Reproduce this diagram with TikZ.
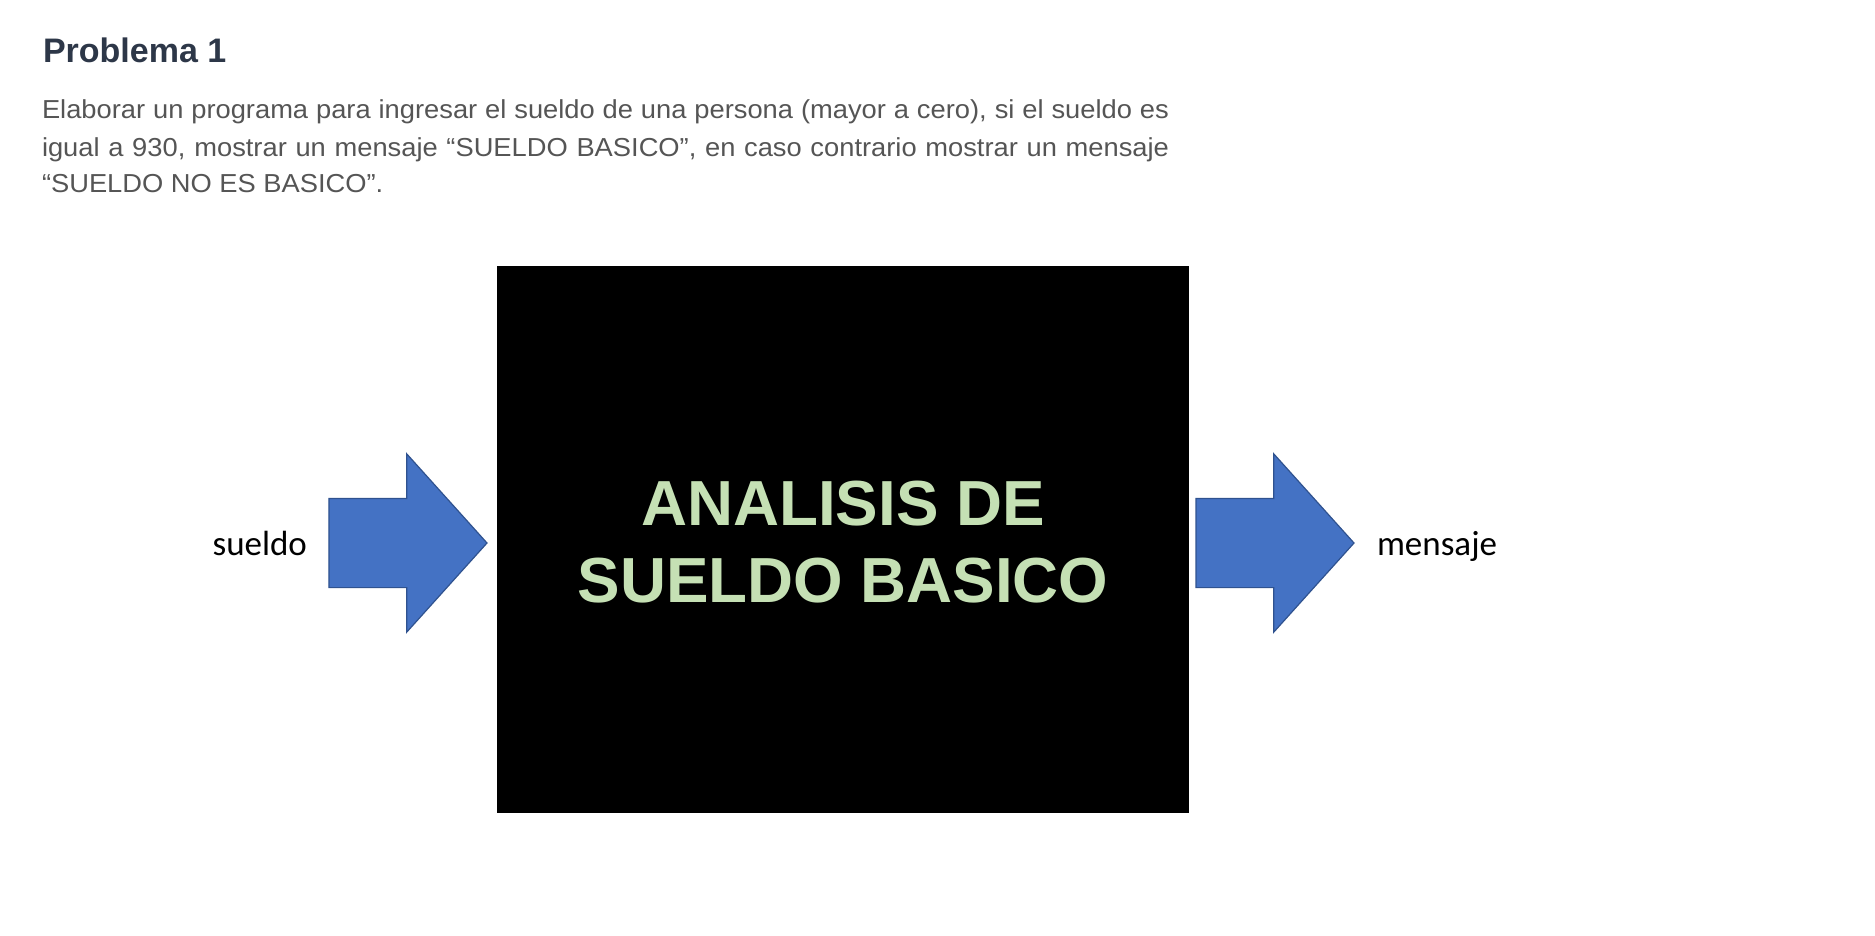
\documentclass[tikz,border=0pt]{standalone}
\usepackage{fontspec}
\setmainfont{Liberation Sans}
\newfontfamily\calibri{Carlito}
\newfontfamily\enunfont[FakeStretch=1.05]{Liberation Sans}
\usetikzlibrary{shapes.arrows, positioning}
\definecolor{titulo}{RGB}{45,55,72}
\definecolor{cuerpo}{RGB}{85,85,85}
\definecolor{verdeclaro}{RGB}{197,224,180}
\definecolor{azulflecha}{RGB}{68,114,196}
\definecolor{bordeflecha}{RGB}{47,82,143}
\tikzset{
  diagrama/.style={
	x=1pt, y=-1pt, % one unit is one pixel of the screenshot
	every node/.style={inner sep=0, outer sep=0},
  },
  enunciado/.style={anchor=base west, text=cuerpo, font=\enunfont\fontsize{26}{37}\selectfont}, % problem text lines
  caja/.style={fill=black, minimum width=692pt, minimum height=547pt}, % black block
  rotulo/.style={text=verdeclaro, font=\fontsize{63.7}{77}\selectfont\bfseries, anchor=base},
  flecha/.style={
	single arrow, fill=azulflecha, draw=bordeflecha, line width=1.2pt,
	inner xsep=0, inner ysep=44pt, % shaft width
	minimum height=158pt, % total length
	single arrow head extend=44.5pt,
	single arrow tip angle=96,
  },
  dato/.style={font=\calibri\fontsize{35}{42}\selectfont, text height=24pt, text depth=0pt},
}
\begin{document}
\begin{tikzpicture}[diagrama]
\useasboundingbox (0,0) rectangle (1875,935);

\node[anchor=base west, text=titulo, font=\fontsize{34}{40}\selectfont\bfseries] (titulo) at (43,62) {Problema 1};
\node[enunciado] (linea1) at (42,118) {\makebox[1127pt][s]{Elaborar un programa para ingresar el sueldo de una persona (mayor a cero), si el sueldo es}};
\node[enunciado] (linea2) at (42,156) {\makebox[1127pt][s]{igual a 930, mostrar un mensaje “SUELDO BASICO”, en caso contrario mostrar un mensaje}};
\node[enunciado] (linea3) at (42,192) {“SUELDO NO ES BASICO”.};

\node[caja] (caja) at (843,539.5) {};
\node[rotulo] (rotulo1) at (843,525) {ANALISIS DE};
\node[rotulo] (rotulo2) at (843,602) {SUELDO BASICO};

\node[flecha, left=10pt of caja, yshift=-3.5pt] (entrada) {};
\node[flecha, right=7pt of caja, yshift=-3.5pt] (salida) {};

\node[dato, left=22pt of entrada] (sueldo) {sueldo};
\node[dato, right=23pt of salida] (mensaje) {mensaje};
\end{tikzpicture}
\end{document}
